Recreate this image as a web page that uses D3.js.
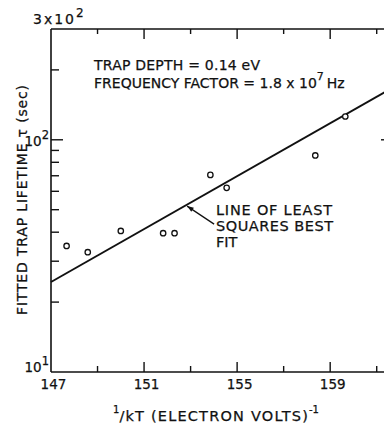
<!DOCTYPE html>
<html>
<head>
<meta charset="utf-8">
<script src="https://cdn.jsdelivr.net/npm/d3@7"></script>
<style>
  html, body { margin: 0; padding: 0; background: #fff; }
  svg { display: block; }
  text { font-family: "DejaVu Sans", sans-serif; fill: #111; stroke: #111; stroke-width: 0.25px; }
</style>
</head>
<body>
<script>
// ---- data ----
const pointX = [147.67, 148.58, 150.0, 151.82, 152.31, 153.85, 154.55, 158.36, 159.65];
const pointY = [34.9, 32.8, 40.5, 39.6, 39.6, 70.6, 62.1, 85.6, 126];
const fitX = [147, 161.7];
const fitY = [24.4, 168];
const xLabelTicks = [147, 151, 155, 159];
const xMajorTicks = [151, 155, 159];
const xMinorTicks = [149, 153, 157, 161];
const yMajorTicks = [100];
const yMinorTicks = [20, 30, 40, 50, 60, 70, 80, 90, 200];

const W = 384, H = 427;
const svg = d3.select("body").append("svg").attr("width", W).attr("height", H);

const x = d3.scaleLinear().domain([147, 161.7]).range([51, 393]);
const y = d3.scaleLog().domain([10, 300]).range([372, 29]);

const x0 = x.range()[0], x1 = x.range()[1];
const y0 = y.range()[0], y1 = y.range()[1];
const ink = "#111";

// frame
const frame = svg.append("g").attr("stroke", ink).attr("stroke-width", 1.6).attr("fill", "none");
frame.append("line").attr("x1", x0).attr("x2", x0).attr("y1", y0).attr("y2", y1);
frame.append("line").attr("x1", x0).attr("x2", x1).attr("y1", y0).attr("y2", y0);
frame.append("line").attr("x1", x0).attr("x2", x1).attr("y1", y1).attr("y2", y1);
frame.append("line").attr("x1", x1).attr("x2", x1).attr("y1", y0).attr("y2", y1);

// x ticks (bottom: pointing up, top: pointing down)
const tk = svg.append("g").attr("stroke", ink).attr("stroke-width", 1.4);
xMajorTicks.forEach(v => {
  tk.append("line").attr("x1", x(v)).attr("x2", x(v)).attr("y1", y0).attr("y2", y0 - 10);
  tk.append("line").attr("x1", x(v)).attr("x2", x(v)).attr("y1", y1).attr("y2", y1 + 10);
});
xMinorTicks.forEach(v => {
  tk.append("line").attr("x1", x(v)).attr("x2", x(v)).attr("y1", y0).attr("y2", y0 - 6);
  tk.append("line").attr("x1", x(v)).attr("x2", x(v)).attr("y1", y1).attr("y2", y1 + 5);
});
// y ticks (left: pointing right, right: pointing left)
yMajorTicks.forEach(v => {
  tk.append("line").attr("x1", x0).attr("x2", x0 + 12).attr("y1", y(v)).attr("y2", y(v));
  tk.append("line").attr("x1", x1).attr("x2", x1 - 12).attr("y1", y(v)).attr("y2", y(v));
});
yMinorTicks.forEach(v => {
  tk.append("line").attr("x1", x0).attr("x2", x0 + 8).attr("y1", y(v)).attr("y2", y(v));
  tk.append("line").attr("x1", x1).attr("x2", x1 - 8).attr("y1", y(v)).attr("y2", y(v));
});

// x tick labels via axis
const xAxis = svg.append("g")
  .attr("transform", `translate(0,${y0})`)
  .call(d3.axisBottom(x).tickValues(xLabelTicks).tickSize(0).tickPadding(7).tickFormat(d3.format("d")));
xAxis.select(".domain").remove();
xAxis.selectAll("text").style("font-family", "DejaVu Sans, sans-serif").style("font-size", "13.5px")
  .attr("fill", ink).attr("stroke", ink).attr("stroke-width", 0.25).attr("dx", 2);

// y tick labels
function powLabel(tx, ty, pre, sup, fs, anchor, ls) {
  const t = svg.append("text").attr("x", tx).attr("y", ty).attr("text-anchor", anchor).style("font-size", fs + "px");
  t.append("tspan").style("letter-spacing", (ls || 0) + "px").text(pre);
  t.append("tspan").attr("dy", -7).style("font-size", (fs - 2) + "px").text(sup);
}
powLabel(x0 - 2, y(10), "10", "1", 13.5, "end");
powLabel(x0 - 2, y(100) + 6, "10", "2", 13.5, "end");
powLabel(33, y(300) - 5, "3x10", "2", 14, "start", 2);

// fit line
const line = d3.line().x(d => x(d[0])).y(d => y(d[1]));
svg.append("path")
  .datum(fitX.map((v, i) => [v, fitY[i]]))
  .attr("d", line).attr("fill", "none").attr("stroke", ink).attr("stroke-width", 1.9);

// points
svg.append("g").selectAll("circle")
  .data(pointX.map((v, i) => [v, pointY[i]]))
  .join("circle")
  .attr("cx", d => x(d[0])).attr("cy", d => y(d[1])).attr("r", 2.7)
  .attr("fill", "#fff").attr("stroke", ink).attr("stroke-width", 1.3);

// arrow annotation
const tipV = 152.85;
const tipY = y(Math.pow(10, Math.log10(fitY[0]) + (tipV - fitX[0]) * (Math.log10(fitY[1]) - Math.log10(fitY[0])) / (fitX[1] - fitX[0])));
const tip = [x(tipV), tipY + 1.5];
const tail = [tip[0] + 27, tip[1] + 18];
svg.append("line").attr("x1", tail[0]).attr("y1", tail[1]).attr("x2", tip[0]).attr("y2", tip[1])
  .attr("stroke", ink).attr("stroke-width", 1.3);
const ang = Math.atan2(tail[1] - tip[1], tail[0] - tip[0]);
const ah = 7, aw = 0.35;
svg.append("path")
  .attr("d", `M${tip[0]},${tip[1]} L${tip[0] + ah * Math.cos(ang + aw)},${tip[1] + ah * Math.sin(ang + aw)} L${tip[0] + ah * Math.cos(ang - aw)},${tip[1] + ah * Math.sin(ang - aw)} Z`)
  .attr("fill", ink);

const lab = ["LINE OF LEAST", "SQUARES BEST", "FIT"];
const labLen = [116, 117, 0];
lab.forEach((s, i) => {
  const t = svg.append("text").attr("x", 216).attr("y", 215 + i * 16).style("font-size", "14.5px").text(s);
  if (labLen[i]) t.attr("textLength", labLen[i]).attr("lengthAdjust", "spacing");
});

// top annotations
svg.append("text").attr("x", 94).attr("y", 70).style("font-size", "14px")
  .attr("textLength", 166).attr("lengthAdjust", "spacing").text("TRAP DEPTH = 0.14 eV");
const fq = svg.append("text").attr("x", 94).attr("y", 88).style("font-size", "14px");
fq.append("tspan").text("FREQUENCY FACTOR = 1.8 x 10");
fq.append("tspan").attr("dy", -8).style("font-size", "11px").text("7");
fq.append("tspan").attr("dy", 8).attr("dx", 3).text("Hz");

// y-axis title
svg.append("text")
  .attr("transform", "translate(27,200) rotate(-90)")
  .attr("text-anchor", "middle").style("font-size", "14px")
  .attr("textLength", 230).attr("lengthAdjust", "spacing")
  .text("FITTED TRAP LIFETIME \u03C4 (sec)");

// x-axis title
const xt = svg.append("text").attr("x", 113).attr("y", 421).style("font-size", "14.5px");
xt.append("tspan").attr("dy", -8).style("font-size", "10px").text("1");
xt.append("tspan").attr("dy", 8).style("letter-spacing", "1.2px").text("/kT (ELECTRON VOLTS)");
xt.append("tspan").attr("dy", -8).style("font-size", "10px").text("-1");
</script>
</body>
</html>
